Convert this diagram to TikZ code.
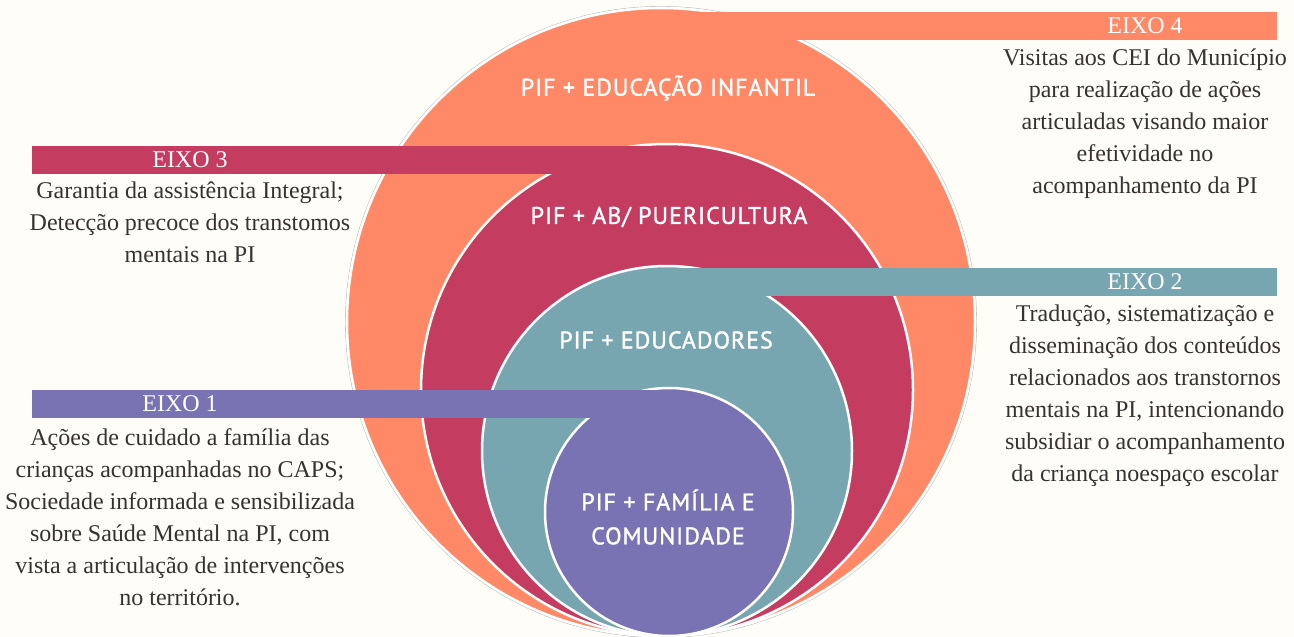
\documentclass[tikz,border=0pt]{standalone}
\usepackage{fontspec}
\setmainfont{Liberation Serif}
\newfontfamily\pifont[LetterSpace=4, FakeBold=1.4]{PT Sans}
\usetikzlibrary{positioning}
\definecolor{cream}{RGB}{254,253,248}
\definecolor{laranja}{RGB}{255,137,102}
\definecolor{vinho}{RGB}{196,60,96}
\definecolor{azul}{RGB}{119,166,176}
\definecolor{roxo}{RGB}{121,115,179}
\definecolor{texto}{RGB}{55,50,50}

\begin{document}
\begin{tikzpicture}[x=1pt,y=-1pt]
\tikzset{ring/.style={draw=white, line width=2.5pt},
		eixo/.style={text=white, font=\fontsize{24}{28}\selectfont},
		desc/.style={align=center, text=texto, font=\fontsize{24}{32}\selectfont},
		pif/.style={align=center, text=white, font=\pifont\fontsize{24}{34}\selectfont}}
\useasboundingbox (0,0) rectangle (1294,637);
\fill[cream] (0,0) rectangle (1294,637);
\clip (0,0) rectangle (1294,637);
\draw[black!25, line width=0.6pt] (661,322) circle[radius=315.6pt];
\draw[ring, fill=laranja] (661,322) circle[radius=314pt];
\fill[laranja] (661,12) rectangle (1277,40);
\draw[ring, fill=vinho] (667,390) circle[radius=246pt];
\fill[vinho] (32,146) rectangle (667,174);
\draw[ring, fill=azul] (667,451) circle[radius=185pt];
\fill[azul] (667,268) rectangle (1277,296);
\draw[ring, fill=roxo] (669,512) circle[radius=124pt];
\fill[roxo] (32,390) rectangle (669,418);
\node[pif] (PEI) at (668,88) {PIF + EDUCAÇÃO INFANTIL};
\node[pif] (PAB) at (669,217) {PIF + AB/ PUERICULTURA};
\node[pif] (PED) at (666,340) {PIF + EDUCADORES};
\node[pif] (PFC) at (668,517) {PIF + FAMÍLIA E\\COMUNIDADE};
\node[eixo] (E4) at (1145,26) {EIXO 4};
\node[desc, below=8pt of E4] (E4t) {Visitas aos CEI do Município\\para realização de ações\\articuladas visando maior\\efetividade no\\acompanhamento da PI};
\node[eixo] (E3) at (190,160) {EIXO 3};
\node[desc, below=7pt of E3] (E3t) {Garantia da assistência Integral;\\Detecção precoce dos transtomos\\mentais na PI};
\node[eixo] (E2) at (1145,282) {EIXO 2};
\node[desc, below=8pt of E2] (E2t) {Tradução, sistematização e\\disseminação dos conteúdos\\relacionados aos transtornos\\mentais na PI, intencionando\\subsidiar o acompanhamento\\da criança noespaço escolar};
\node[eixo] (E1) at (180,404) {EIXO 1};
\node[desc, below=9pt of E1] (E1t) {Ações de cuidado a família das\\crianças acompanhadas no CAPS;\\Sociedade informada e sensibilizada\\sobre Saúde Mental na PI, com\\vista a articulação de intervenções\\no território.};
\end{tikzpicture}
\end{document}
